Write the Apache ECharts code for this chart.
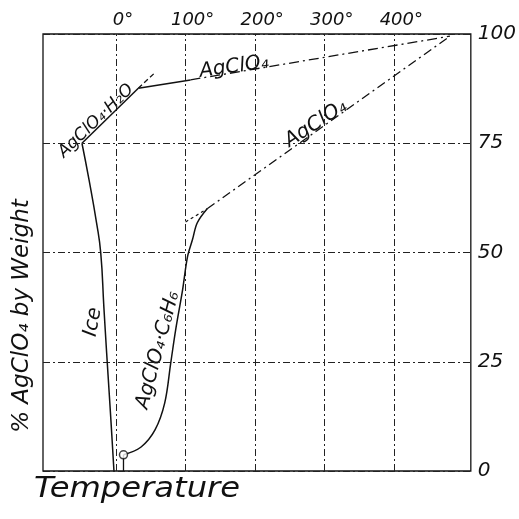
<!DOCTYPE html>
<html>
<head>
<meta charset="utf-8">
<script src="https://cdn.jsdelivr.net/npm/echarts@6/dist/echarts.min.js"></script>
<style>html,body{margin:0;padding:0;background:#fff}#c{width:519px;height:519px}</style>
</head>
<body>
<div id="c"></div>
<script>
// ---- data ----
const tempTicks = [0, 100, 200, 300, 400];
const pctTicks = [0, 25, 50, 75, 100];

const iceT   = [-49, -38.8, -28, -22, -17.5, -13.5, -9.5, -6, -3];
const icePct = [75, 66.6, 56.8, 49.9, 37.5, 27, 17, 8, 0];

const hydrateT   = [-49, 32];
const hydratePct = [75, 87.6];
const hydrateExtT   = [32, 57];
const hydrateExtPct = [87.6, 91.3];

const anhUpperT   = [32, 107];
const anhUpperPct = [87.6, 89.5];
const anhUpperDashT   = [107, 480];
const anhUpperDashPct = [89.5, 99.5];

const benzT   = [10.7, 36, 56, 70, 78.6, 85.7, 95.6, 102.7, 109.8, 116.8, 131];
const benzPct = [3.7, 5.5, 9.4, 15.6, 24.7, 32.3, 41.4, 49, 52.9, 56.8, 60];
const benzStemT = [10.7, 10.7];
const benzStemPct = [3.7, 0];

const anhLowerT   = [131, 480];
const anhLowerPct = [60, 99.5];
const anhLowerExtT   = [100, 131];
const anhLowerExtPct = [57, 60];

const zip = (a, b) => a.map((v, i) => [v, b[i]]);
const FONT = 'DejaVu Sans';
const gridLine = { color: '#222', width: 1, type: [7, 3, 2, 3] };

function line(t, p, opts) {
  return Object.assign({
    type: 'line', data: zip(t, p), showSymbol: false, symbol: 'none',
    lineStyle: { color: '#111', width: 1.5 }, animation: false, silent: true, z: 5
  }, opts || {});
}

const chart = echarts.init(document.getElementById('c'));
chart.setOption({
  animation: false,
  backgroundColor: '#fff',
  grid: { left: 43, right: 41, top: 34, bottom: 48, show: true, borderColor: '#111', borderWidth: 1.3, backgroundColor: 'transparent' },
  xAxis: {
    type: 'value', position: 'top', min: -105, max: 510,
    axisLine: { show: false }, axisTick: { show: false }, splitLine: { show: false },
    axisLabel: {
      customValues: tempTicks, formatter: v => v + '°', margin: 5, padding: [0, 0, 0, 14],
      fontFamily: FONT, fontStyle: 'italic', fontSize: 18, color: '#111'
    }
  },
  yAxis: {
    type: 'value', position: 'right', min: 0, max: 100, interval: 25,
    axisLine: { show: false }, axisTick: { show: false },
    splitLine: { show: true, lineStyle: gridLine },
    axisLabel: { margin: 7, fontFamily: FONT, fontStyle: 'italic', fontSize: 20, color: '#111' }
  },
  series: [
    {
      type: 'line', data: [], silent: true,
      markLine: {
        silent: true, symbol: 'none', label: { show: false }, animation: false,
        lineStyle: gridLine,
        data: tempTicks.map(v => ({ xAxis: v }))
      }
    },
    line(iceT, icePct, { smooth: 0.5 }),
    line(hydrateT, hydratePct),
    line(hydrateExtT, hydrateExtPct, { lineStyle: { color: '#111', width: 1.3, type: [5, 3] } }),
    line(anhUpperT, anhUpperPct),
    line(anhUpperDashT, anhUpperDashPct, { lineStyle: { color: '#111', width: 1.3, type: [10, 4, 2, 4] } }),
    line(benzT, benzPct, { smooth: 0.35 }),
    line(benzStemT, benzStemPct, { lineStyle: { color: '#111', width: 1.3 } }),
    line(anhLowerT, anhLowerPct, { lineStyle: { color: '#111', width: 1.3, type: [9, 4, 2, 4] } }),
    line(anhLowerExtT, anhLowerExtPct, { lineStyle: { color: '#111', width: 1.2, type: [3, 3] } }),
    {
      type: 'scatter', data: [[benzT[0], benzPct[0]]], symbol: 'circle', symbolSize: 8,
      itemStyle: { color: '#fff', borderColor: '#111', borderWidth: 1.5 }, silent: true, z: 6
    }
  ],
  graphic: [
    { type: 'text', x: 34, y: 476, scaleX: 1.15, style: { text: 'Temperature', font: 'italic 28px "DejaVu Sans"', fill: '#111' } },
    { type: 'text', x: 22, y: 316, rotation: Math.PI / 2, style: { text: '% AgClO₄ by Weight', font: 'italic 23px "DejaVu Sans"', fill: '#111', align: 'center', verticalAlign: 'middle' } },
    { type: 'text', x: 93, y: 322, rotation: 80 * Math.PI / 180, style: { text: 'Ice', font: 'italic 20px "DejaVu Sans"', fill: '#111', align: 'center', verticalAlign: 'middle' } },
    { type: 'text', x: 158, y: 350, rotation: 75 * Math.PI / 180, style: { text: 'AgClO₄·C₆H₆', font: 'italic 20px "DejaVu Sans"', fill: '#111', align: 'center', verticalAlign: 'middle' } },
    { type: 'text', x: 96, y: 121, rotation: 44 * Math.PI / 180, style: { text: 'AgClO₄·H₂O', font: 'italic 17px "DejaVu Sans"', fill: '#111', align: 'center', verticalAlign: 'middle' } },
    { type: 'text', x: 234, y: 67, rotation: 8 * Math.PI / 180, style: { text: 'AgClO₄', font: 'italic 20px "DejaVu Sans"', fill: '#111', align: 'center', verticalAlign: 'middle' } },
    { type: 'text', x: 316, y: 124, rotation: 33 * Math.PI / 180, style: { text: 'AgClO₄', font: 'italic 20px "DejaVu Sans"', fill: '#111', align: 'center', verticalAlign: 'middle' } }
  ]
});
</script>
</body>
</html>
